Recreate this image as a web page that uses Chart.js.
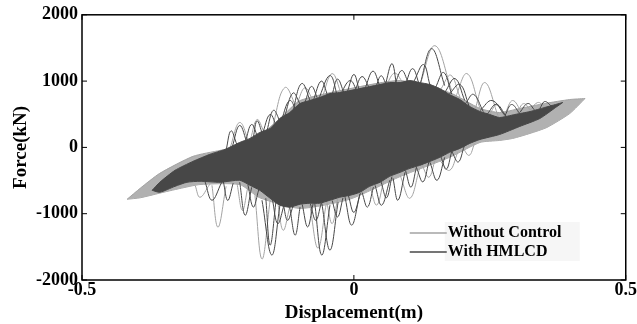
<!DOCTYPE html>
<html>
<head>
<meta charset="utf-8">
<script src="https://cdn.jsdelivr.net/npm/chart.js@4.4.1/dist/chart.umd.min.js"></script>
<style>
  html, body { margin: 0; padding: 0; background: #fff; }
</style>
</head>
<body>
<canvas id="c" width="637" height="324"></canvas>
<script>
// Hysteresis loops, force vs displacement — values as [displacement m, force kN]

const xTicks = [-0.5, 0, 0.5];
const yTicks = [-2000, -1000, 0, 1000, 2000];

// dense core of the "With HMLCD" loops (upper / lower edge)
const darkUpper = [
  [-0.371,-647],[-0.357,-526],[-0.329,-346],[-0.296,-211],[-0.265,-105],[-0.237,-30],
  [-0.210,75],[-0.191,135],[-0.173,226],[-0.154,286],[-0.136,436],[-0.118,526],
  [-0.099,662],[-0.081,707],[-0.063,752],[-0.044,812],[-0.026,827],[-0.007,857],
  [0.011,887],[0.029,917],[0.048,948],[0.066,978],[0.085,978],[0.103,1008],
  [0.121,978],[0.140,948],[0.158,887],[0.176,797],[0.195,722],[0.213,617],
  [0.232,541],[0.250,496],[0.268,451],[0.296,496],[0.324,541],[0.351,602],
  [0.371,647],[0.384,677]
];
const darkLower = [
  [-0.371,-647],[-0.357,-677],[-0.329,-587],[-0.307,-526],[-0.283,-511],[-0.246,-526],
  [-0.210,-496],[-0.191,-572],[-0.173,-647],[-0.154,-767],[-0.136,-872],[-0.118,-902],
  [-0.099,-857],[-0.081,-842],[-0.063,-842],[-0.044,-797],[-0.026,-752],[-0.007,-722],
  [0.011,-677],[0.029,-587],[0.048,-526],[0.066,-436],[0.085,-376],[0.103,-316],
  [0.121,-271],[0.140,-211],[0.158,-150],[0.176,-75],[0.195,-15],[0.213,60],
  [0.232,120],[0.268,195],[0.305,316],[0.342,436],[0.371,602],[0.384,677]
];
// single excursions sticking out of the core: [start, turn, end]
const darkLoops = [
  [[-0.224,0],[-0.210,331],[-0.195,30]],
  [[-0.200,75],[-0.188,346],[-0.175,105]],
  [[-0.169,180],[-0.154,496],[-0.140,256]],
  [[-0.136,331],[-0.118,707],[-0.103,481]],
  [[-0.114,481],[-0.096,963],[-0.077,632]],
  [[-0.066,707],[-0.044,1083],[-0.029,737]],
  [[-0.026,782],[-0.007,1008],[0.007,827]],
  [[0.002,857],[0.015,1068],[0.029,887]],
  [[0.057,917],[0.070,1263],[0.079,917]],
  [[0.094,932],[0.108,1188],[0.121,932]],
  [[0.121,932],[0.143,1489],[0.167,932]],
  [[0.167,827],[0.186,1038],[0.204,707]],
  [[0.232,556],[0.254,707],[0.278,481]],
  [[0.278,481],[0.290,647],[0.305,511]],
  [[0.305,526],[0.320,662],[0.333,556]],
  [[0.342,587],[0.351,692],[0.364,617]],
  [[-0.235,-40],[-0.226,250],[-0.215,40]],
  [[-0.185,150],[-0.178,400],[-0.168,200]],
  [[-0.160,250],[-0.148,560],[-0.135,380]],
  [[-0.128,450],[-0.112,820],[-0.098,640]],
  [[-0.090,680],[-0.078,920],[-0.066,720]],
  [[-0.075,700],[-0.060,1000],[-0.048,780]],
  [[-0.040,800],[-0.030,1030],[-0.018,820]],
  [[-0.012,840],[0.000,1100],[0.010,860]],
  [[0.020,880],[0.035,1150],[0.048,920]],
  [[0.040,900],[0.050,1080],[0.060,940]],
  [[0.075,950],[0.088,1160],[0.100,980]],
  [[0.110,990],[0.128,1250],[0.140,940]],
  [[0.150,900],[0.165,1130],[0.180,800]],
  [[0.175,800],[0.195,950],[0.212,620]],
  [[0.205,660],[0.220,800],[0.238,540]],
  [[0.245,500],[0.262,650],[0.280,470]],
  [[-0.169,-797],[-0.151,-1624],[-0.136,-872]],
  [[-0.162,-767],[-0.154,-1474],[-0.143,-797]],
  [[-0.072,-842],[-0.059,-1624],[-0.044,-872]],
  [[-0.059,-842],[-0.044,-1549],[-0.029,-827]],
  [[-0.210,-526],[-0.200,-1023],[-0.188,-602]],
  [[-0.118,-902],[-0.108,-1324],[-0.099,-902]],
  [[-0.017,-722],[-0.004,-1173],[0.011,-707]],
  [[0.039,-572],[0.051,-872],[0.066,-496]],
  [[0.072,-466],[0.081,-797],[0.094,-376]],
  [[-0.274,-511],[-0.261,-797],[-0.243,-526]],
  [[0.140,-226],[0.153,-496],[0.167,-150]],
  [[-0.240,-520],[-0.232,-800],[-0.222,-540]],
  [[-0.195,-560],[-0.185,-900],[-0.175,-640]],
  [[-0.150,-780],[-0.140,-1150],[-0.128,-860]],
  [[-0.130,-850],[-0.122,-1100],[-0.112,-890]],
  [[-0.095,-860],[-0.085,-1200],[-0.075,-850]],
  [[-0.080,-850],[-0.070,-1100],[-0.060,-840]],
  [[-0.040,-800],[-0.030,-1050],[-0.020,-760]],
  [[-0.010,-730],[0.000,-980],[0.012,-690]],
  [[0.015,-680],[0.025,-900],[0.036,-600]],
  [[0.050,-520],[0.060,-760],[0.070,-440]],
  [[0.095,-350],[0.105,-600],[0.115,-300]],
  [[0.115,-300],[0.127,-520],[0.138,-220]],
  [[0.160,-140],[0.170,-330],[0.180,-60]],
  [[0.180,-60],[0.192,-220],[0.203,20]]
];

// "Without Control" envelope and excursions
const lightUpper = [
  [-0.417,-782],[-0.393,-617],[-0.357,-391],[-0.296,-135],[-0.246,-45],[-0.210,15],
  [-0.173,180],[-0.136,436],[-0.099,707],[-0.007,887],[0.085,1008],[0.176,827],
  [0.232,587],[0.268,526],[0.305,587],[0.351,662],[0.397,722],[0.425,737]
];
const lightLower = [
  [-0.417,-782],[-0.393,-760],[-0.357,-690],[-0.320,-620],[-0.283,-560],[-0.210,-560],
  [-0.173,-760],[-0.099,-920],[-0.007,-780],[0.085,-440],[0.176,-150],[0.232,75],
  [0.268,105],[0.292,135],[0.324,211],[0.355,301],[0.397,511],[0.425,737]
];
const lightLoops = [
  [[-0.228,-15],[-0.210,376],[-0.191,30]],
  [[-0.151,256],[-0.127,902],[-0.103,556]],
  [[-0.059,737],[-0.040,1113],[-0.022,782]],
  [[0.121,932],[0.149,1534],[0.180,857]],
  [[0.186,737],[0.208,1113],[0.232,587]],
  [[0.222,556],[0.241,978],[0.265,481]],
  [[0.278,511],[0.292,707],[0.309,526]],
  [[0.324,556],[0.338,677],[0.351,617]],
  [[-0.190,130],[-0.178,420],[-0.165,230]],
  [[-0.105,650],[-0.090,900],[-0.075,700]],
  [[0.060,950],[0.075,1120],[0.090,980]],
  [[0.160,880],[0.178,1090],[0.195,760]],
  [[0.250,500],[0.262,640],[0.276,480]],
  [[0.300,520],[0.312,660],[0.325,560]],
  [[-0.182,-722],[-0.169,-1684],[-0.154,-797]],
  [[-0.081,-872],[-0.066,-1519],[-0.051,-857]],
  [[-0.261,-572],[-0.250,-1203],[-0.235,-587]],
  [[0.085,-421],[0.103,-767],[0.121,-316]],
  [[0.158,-196],[0.176,-346],[0.191,-75]],
  [[-0.292,-572],[-0.283,-752],[-0.265,-556]],
  [[-0.215,-540],[-0.205,-950],[-0.195,-600]],
  [[-0.140,-840],[-0.130,-1250],[-0.118,-900]],
  [[-0.050,-820],[-0.040,-1150],[-0.030,-780]],
  [[0.030,-600],[0.042,-870],[0.055,-500]],
  [[0.125,-260],[0.138,-450],[0.150,-170]],
  [[0.200,0],[0.212,-120],[0.222,60]]
];

const DARK  = '#474747';
const LIGHT = '#a3a3a3';
const LIGHT_FILL = '#b1b1b1';
const FONT  = "'Liberation Serif', 'Times New Roman', serif";

const pts  = a => a.map(([x, y]) => ({ x, y }));
const gaps = list => list.flatMap(a => [...pts(a), { x: a[a.length - 1][0], y: null }]);

const base = { pointRadius: 0, borderWidth: 1, spanGaps: false };

// inward ticks, frame and the in-plot legend
const framePlugin = {
  id: 'frame',
  afterDraw(chart) {
    const { ctx, chartArea: a, scales: { x, y } } = chart;
    ctx.save();
    ctx.strokeStyle = '#000';
    ctx.lineWidth = 1;
    ctx.beginPath();
    xTicks.forEach(v => {
      const p = x.getPixelForValue(v);
      ctx.moveTo(p, a.bottom); ctx.lineTo(p, a.bottom - 5);
      ctx.moveTo(p, a.top);    ctx.lineTo(p, a.top + 5);
    });
    yTicks.forEach(v => {
      const p = y.getPixelForValue(v);
      ctx.moveTo(a.left, p);  ctx.lineTo(a.left + 5, p);
      ctx.moveTo(a.right, p); ctx.lineTo(a.right - 5, p);
    });
    ctx.stroke();
    ctx.lineWidth = 1.5;
    ctx.strokeRect(a.left, a.top, a.right - a.left, a.bottom - a.top);

    // legend
    const lx = a.right - 216, tx = a.right - 178;
    const y1 = a.bottom - 47, y2 = a.bottom - 28;
    ctx.fillStyle = '#f6f6f6';
    ctx.fillRect(a.right - 181, a.bottom - 58, 135, 39);
    ctx.lineWidth = 1.5;
    ctx.strokeStyle = LIGHT;
    ctx.beginPath(); ctx.moveTo(lx, y1); ctx.lineTo(lx + 37, y1); ctx.stroke();
    ctx.strokeStyle = DARK;
    ctx.beginPath(); ctx.moveTo(lx, y2); ctx.lineTo(lx + 37, y2); ctx.stroke();
    ctx.fillStyle = '#000';
    ctx.font = 'bold 16px ' + FONT;
    ctx.textBaseline = 'middle';
    ctx.fillText('Without Control', tx, y1);
    ctx.fillText('With HMLCD', tx, y2);
    ctx.restore();
  }
};

new Chart(document.getElementById('c'), {
  type: 'line',
  data: {
    datasets: [
      { ...base, label: 'With HMLCD', data: gaps(darkLoops), borderColor: DARK, tension: 0.4, fill: false, order: 0 },
      { ...base, data: pts(darkUpper), borderColor: DARK, backgroundColor: DARK, tension: 0.2, fill: '+1', order: 1 },
      { ...base, data: pts(darkLower), borderColor: DARK, tension: 0.2, fill: false, order: 2 },
      { ...base, label: 'Without Control', data: gaps(lightLoops), borderColor: LIGHT, tension: 0.4, fill: false, order: 3 },
      { ...base, data: pts(lightUpper), borderColor: LIGHT, backgroundColor: LIGHT_FILL, tension: 0.2, fill: '+1', order: 4 },
      { ...base, data: pts(lightLower), borderColor: LIGHT, tension: 0.2, fill: false, order: 5 },
    ],
  },
  options: {
    responsive: false,
    animation: false,
    events: [],
    layout: { padding: { top: 14, right: 11, left: 0, bottom: 0 } },
    plugins: {
      legend: { display: false },
      tooltip: { enabled: false },
      filler: { drawTime: 'beforeDatasetDraw' },
    },
    scales: {
      x: {
        type: 'linear', min: -0.5, max: 0.5,
        afterBuildTicks: s => { s.ticks = xTicks.map(value => ({ value })); },
        afterFit: s => { s.height = 44; },
        grid: { display: false, drawTicks: false },
        border: { display: false },
        ticks: { color: '#000', padding: 0, font: { family: FONT, size: 18, weight: 'bold' }, callback: v => String(v) },
        title: { display: true, text: 'Displacement(m)', color: '#000', padding: { top: 0, bottom: 0 }, font: { family: FONT, size: 19, weight: 'bold' } },
      },
      y: {
        type: 'linear', min: -2000, max: 2000,
        afterBuildTicks: s => { s.ticks = yTicks.map(value => ({ value })); },
        afterFit: s => { s.width = 82; },
        grid: { display: false, drawTicks: false },
        border: { display: false },
        ticks: { color: '#000', padding: 4, font: { family: FONT, size: 18, weight: 'bold' }, callback: v => String(v) },
        title: { display: true, text: 'Force(kN)', color: '#000', padding: { top: 10, bottom: 0 }, font: { family: FONT, size: 19, weight: 'bold' } },
      },
    },
  },
  plugins: [framePlugin],
});
</script>
</body>
</html>
